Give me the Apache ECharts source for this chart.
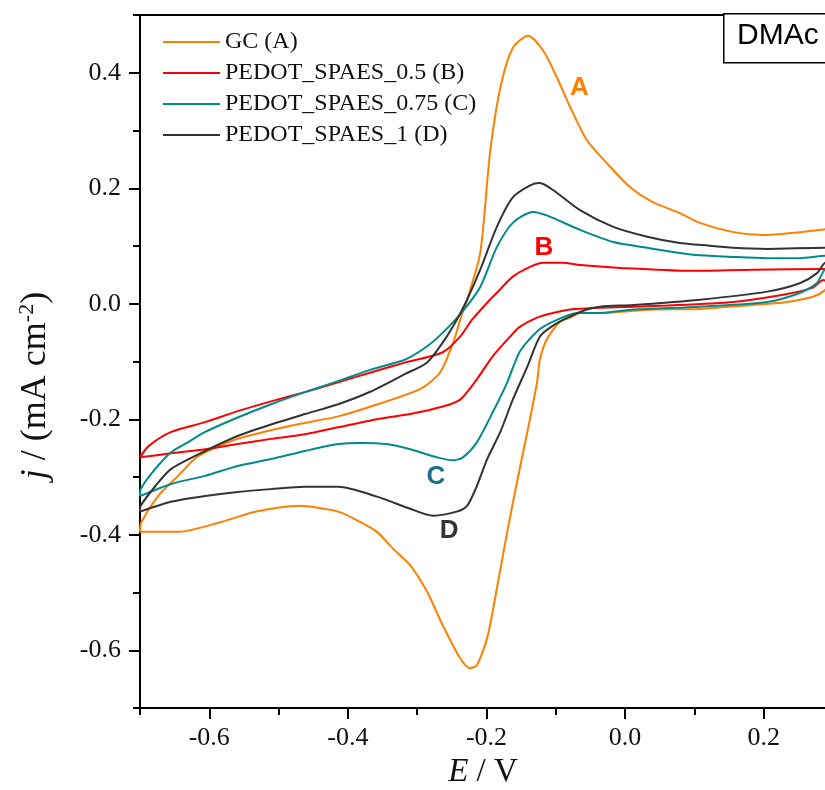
<!DOCTYPE html>
<html>
<head>
<meta charset="utf-8">
<script src="https://cdn.jsdelivr.net/npm/echarts@6/dist/echarts.min.js"></script>
<style>html,body{margin:0;padding:0;background:#fff;}#c{width:825px;height:790px;}</style>
</head>
<body>
<div id="c"></div>
<script>
// ---- data (E / V, j / mA cm-2) ----
const seriesNames = ['GC (A)', 'PEDOT_SPAES_0.5 (B)', 'PEDOT_SPAES_0.75 (C)', 'PEDOT_SPAES_1 (D)'];

const gcForward = [[-0.7,-0.395],[-0.698,-0.378],[-0.674,-0.333],[-0.645,-0.298],[-0.616,-0.264],[-0.559,-0.234],[-0.486,-0.212],[-0.414,-0.195],[-0.367,-0.178],[-0.296,-0.148],[-0.267,-0.119],[-0.248,-0.067],[-0.238,-0.028],[-0.228,0.007],[-0.209,0.088],[-0.195,0.260],[-0.180,0.374],[-0.162,0.443],[-0.140,0.464],[-0.118,0.438],[-0.098,0.391],[-0.079,0.340],[-0.055,0.283],[-0.026,0.243],[0.007,0.202],[0.040,0.176],[0.079,0.157],[0.108,0.140],[0.156,0.124],[0.199,0.119],[0.253,0.124],[0.289,0.129],[0.30,0.13]];
const gcReverse = [[0.30,0.04],[0.289,0.024],[0.271,0.012],[0.228,0.002],[0.185,-0.002],[0.108,-0.009],[0.040,-0.010],[-0.036,-0.016],[-0.065,-0.016],[-0.079,-0.024],[-0.094,-0.031],[-0.113,-0.062],[-0.123,-0.097],[-0.127,-0.136],[-0.141,-0.222],[-0.156,-0.309],[-0.170,-0.395],[-0.185,-0.493],[-0.199,-0.579],[-0.214,-0.626],[-0.224,-0.631],[-0.238,-0.614],[-0.263,-0.557],[-0.286,-0.498],[-0.310,-0.453],[-0.335,-0.424],[-0.358,-0.395],[-0.382,-0.378],[-0.414,-0.360],[-0.472,-0.350],[-0.534,-0.360],[-0.583,-0.378],[-0.645,-0.395],[-0.7,-0.395]];

const b05Forward = [[-0.7,-0.266],[-0.688,-0.247],[-0.655,-0.222],[-0.606,-0.205],[-0.559,-0.186],[-0.511,-0.169],[-0.462,-0.153],[-0.414,-0.136],[-0.367,-0.119],[-0.318,-0.102],[-0.263,-0.084],[-0.238,-0.057],[-0.221,-0.028],[-0.195,0.007],[-0.185,0.019],[-0.162,0.047],[-0.137,0.064],[-0.118,0.071],[-0.090,0.071],[-0.065,0.067],[-0.007,0.062],[0.089,0.057],[0.185,0.059],[0.289,0.060],[0.30,0.060]];
const b05Reverse = [[0.30,0.03],[0.286,0.041],[0.271,0.028],[0.234,0.017],[0.156,0.003],[0.061,-0.003],[-0.036,-0.007],[-0.079,-0.010],[-0.104,-0.016],[-0.127,-0.024],[-0.152,-0.040],[-0.166,-0.057],[-0.191,-0.091],[-0.214,-0.131],[-0.238,-0.166],[-0.263,-0.178],[-0.310,-0.191],[-0.358,-0.200],[-0.414,-0.214],[-0.462,-0.226],[-0.511,-0.234],[-0.559,-0.243],[-0.606,-0.252],[-0.655,-0.259],[-0.7,-0.266]];

const c075Forward = [[-0.7,-0.333],[-0.699,-0.321],[-0.678,-0.286],[-0.655,-0.257],[-0.631,-0.240],[-0.606,-0.222],[-0.559,-0.197],[-0.511,-0.174],[-0.462,-0.153],[-0.414,-0.134],[-0.367,-0.114],[-0.318,-0.097],[-0.286,-0.074],[-0.263,-0.050],[-0.235,-0.014],[-0.209,0.029],[-0.185,0.098],[-0.162,0.140],[-0.133,0.159],[-0.113,0.153],[-0.065,0.128],[-0.017,0.107],[0.032,0.097],[0.079,0.088],[0.108,0.084],[0.156,0.081],[0.205,0.079],[0.253,0.079],[0.289,0.083],[0.30,0.083]];
const c075Reverse = [[0.30,0.05],[0.289,0.059],[0.277,0.036],[0.253,0.019],[0.205,0.003],[0.108,-0.005],[0.012,-0.010],[-0.036,-0.016],[-0.069,-0.016],[-0.104,-0.031],[-0.127,-0.048],[-0.152,-0.083],[-0.170,-0.136],[-0.191,-0.188],[-0.214,-0.240],[-0.234,-0.266],[-0.248,-0.271],[-0.271,-0.266],[-0.310,-0.252],[-0.344,-0.243],[-0.382,-0.241],[-0.414,-0.243],[-0.462,-0.255],[-0.511,-0.269],[-0.559,-0.281],[-0.606,-0.298],[-0.655,-0.312],[-0.7,-0.333]];

const d1Forward = [[-0.7,-0.360],[-0.699,-0.350],[-0.678,-0.316],[-0.655,-0.286],[-0.606,-0.255],[-0.559,-0.229],[-0.511,-0.209],[-0.462,-0.191],[-0.414,-0.174],[-0.367,-0.152],[-0.318,-0.122],[-0.286,-0.102],[-0.263,-0.067],[-0.243,-0.028],[-0.228,0.007],[-0.209,0.059],[-0.185,0.133],[-0.162,0.184],[-0.137,0.205],[-0.123,0.209],[-0.104,0.197],[-0.065,0.162],[-0.017,0.133],[0.032,0.116],[0.079,0.105],[0.108,0.102],[0.156,0.097],[0.205,0.095],[0.289,0.097],[0.30,0.097]];
const d1Reverse = [[0.30,0.05],[0.289,0.071],[0.277,0.053],[0.253,0.036],[0.205,0.021],[0.108,0.007],[0.012,-0.002],[-0.036,-0.005],[-0.055,-0.010],[-0.079,-0.022],[-0.104,-0.038],[-0.123,-0.057],[-0.141,-0.109],[-0.162,-0.166],[-0.180,-0.222],[-0.199,-0.269],[-0.214,-0.316],[-0.228,-0.350],[-0.243,-0.360],[-0.277,-0.367],[-0.310,-0.355],[-0.358,-0.334],[-0.414,-0.317],[-0.462,-0.317],[-0.511,-0.321],[-0.559,-0.326],[-0.606,-0.333],[-0.655,-0.343],[-0.7,-0.360]];

// axis ticks
const xMajorTicks = [-0.6, -0.4, -0.2, 0.0, 0.2];
const xMinorTicks = [-0.7, -0.5, -0.3, -0.1, 0.1];
const yMajorTicks = [-0.6, -0.4, -0.2, 0.0, 0.2, 0.4];
const yMinorTicks = [-0.7, -0.5, -0.3, -0.1, 0.1, 0.3, 0.5];

// curve letter annotations (data coords)
const curveLetters = ['A', 'B', 'C', 'D'];
const letterPositions = [[-0.066, 0.374], [-0.117, 0.096], [-0.273, -0.300], [-0.254, -0.393]];

// ---- styles ----
const colors = ['#ff8000', '#ff0000', '#008b8b', '#333333'];
const letterColors = ['#ff8000', '#ff0000', '#1d6f8c', '#333333'];
const serif = 'Liberation Serif, Times New Roman, serif';
const sans = 'Liberation Sans, Arial, sans-serif';
const XMIN = -0.7, XMAX = 0.29, YMIN = -0.7, YMAX = 0.5;

const curves = [gcForward.concat(gcReverse), b05Forward.concat(b05Reverse), c075Forward.concat(c075Reverse), d1Forward.concat(d1Reverse)];

const lineSeries = curves.map((d, i) => ({
  name: seriesNames[i], type: 'line', data: d, xAxisIndex: 0, yAxisIndex: 0,
  symbol: 'none', smooth: 0.25, clip: true, silent: true,
  lineStyle: { color: colors[i], width: 2 }, itemStyle: { color: colors[i] },
  emphasis: { disabled: true }, z: 2 + i
}));

const letterSeries = curveLetters.map((L, i) => ({
  type: 'scatter', data: [letterPositions[i]], xAxisIndex: 0, yAxisIndex: 0,
  symbolSize: 1, itemStyle: { color: 'rgba(0,0,0,0)', opacity: 1 }, silent: true, z: 10,
  emphasis: { disabled: true },
  label: { show: true, position: 'inside', formatter: L, color: letterColors[i], opacity: 1,
           textBorderWidth: 0, fontFamily: sans, fontWeight: 'bold', fontSize: 26 }
}));

const axisLineStyle = { color: '#000', width: 2 };

const chart = echarts.init(document.getElementById('c'), null, { renderer: 'canvas' });
chart.setOption({
  animation: false,
  backgroundColor: '#fff',
  grid: { left: 140, top: 15, width: 686, height: 693, containLabel: false, outerBoundsMode: 'none' },
  legend: {
    data: seriesNames, orient: 'vertical', left: 163, top: 30, padding: 0,
    icon: 'rect', itemWidth: 57, itemHeight: 2, itemGap: 7,
    textStyle: { fontFamily: serif, fontSize: 24, color: '#111', lineHeight: 23 }, selectedMode: false
  },
  xAxis: [
    { type: 'value', min: XMIN, max: XMAX, position: 'bottom',
      axisLine: { show: true, onZero: false, lineStyle: axisLineStyle },
      axisTick: { show: true, inside: false, length: 11, lineStyle: axisLineStyle, customValues: xMajorTicks },
      axisLabel: { show: true, margin: 17, customValues: xMajorTicks, formatter: v => v.toFixed(1),
                   fontFamily: serif, fontSize: 26, color: '#111' },
      splitLine: { show: false },
      name: '{i|E} / V', nameLocation: 'middle', nameGap: 48,
      nameTextStyle: { fontFamily: serif, fontSize: 33, color: '#111', rich: { i: { fontFamily: serif, fontStyle: 'italic', fontSize: 33, color: '#111' } } }
    },
    { type: 'value', min: XMIN, max: XMAX, position: 'bottom',
      axisLine: { show: false, onZero: false },
      axisTick: { show: true, inside: false, length: 7, lineStyle: axisLineStyle, customValues: xMinorTicks },
      axisLabel: { show: false }, splitLine: { show: false }
    },
    { type: 'value', min: XMIN, max: XMAX, position: 'top',
      axisLine: { show: true, onZero: false, lineStyle: axisLineStyle },
      axisTick: { show: false }, axisLabel: { show: false }, splitLine: { show: false }
    }
  ],
  yAxis: [
    { type: 'value', min: YMIN, max: YMAX, position: 'left',
      axisLine: { show: true, onZero: false, lineStyle: axisLineStyle },
      axisTick: { show: true, inside: false, length: 11, lineStyle: axisLineStyle, customValues: yMajorTicks },
      axisLabel: { show: true, margin: 19, customValues: yMajorTicks, formatter: v => v.toFixed(1),
                   fontFamily: serif, fontSize: 26, color: '#111' },
      splitLine: { show: false },
      name: '{i|j} / (mA cm{sup|-2})', nameLocation: 'middle', nameGap: 84, nameRotate: 90,
      nameTextStyle: { fontFamily: serif, fontSize: 36, color: '#111', padding: [0, 48, 0, 0],
        rich: { i: { fontFamily: serif, fontStyle: 'italic', fontSize: 36, color: '#111' },
                sup: { fontFamily: serif, fontSize: 22, color: '#111', padding: [0, 0, 18, 0] } } }
    },
    { type: 'value', min: YMIN, max: YMAX, position: 'left',
      axisLine: { show: false, onZero: false },
      axisTick: { show: true, inside: false, length: 7, lineStyle: axisLineStyle, customValues: yMinorTicks },
      axisLabel: { show: false }, splitLine: { show: false }
    }
  ],
  graphic: [
    { type: 'rect', left: 723, top: 13, shape: { x: 0, y: 0, width: 110, height: 49 },
      style: { fill: '#fff', stroke: '#000', lineWidth: 1.5 }, z: 100 },
    { type: 'text', left: 737, top: 21, style: { text: 'DMAc', fontFamily: sans, fontSize: 30, fill: '#000' }, z: 101 }
  ],
  series: lineSeries.concat(letterSeries)
});
</script>
</body>
</html>
